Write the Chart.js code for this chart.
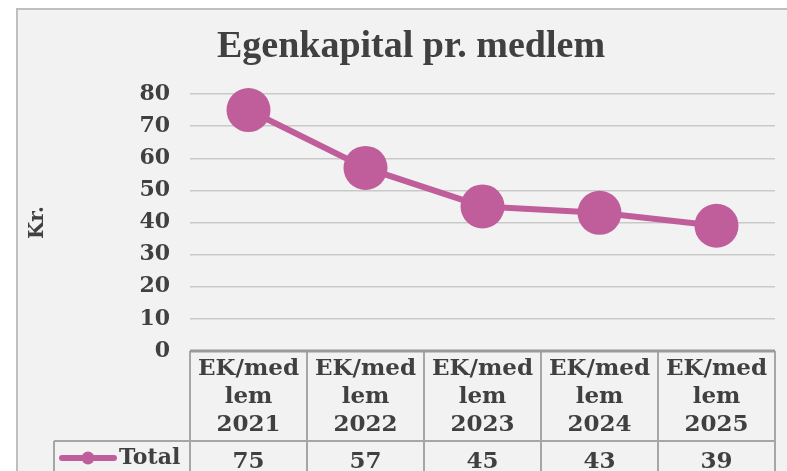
<!DOCTYPE html>
<html>
<head>
<meta charset="utf-8">
<script src="https://cdn.jsdelivr.net/npm/chart.js@4"></script>
<style>
  html, body { margin: 0; padding: 0; background: #ffffff; overflow: hidden; }
  #frame {
    position: absolute; left: 16px; top: 8px; width: 800px; height: 480px;
    background: #f2f2f2; border: 2px solid #bfbfbf; box-sizing: border-box;
  }
  #wrap { position: absolute; left: 0; top: 0; width: 787px; height: 471px; }
</style>
</head>
<body>
<div id="frame"></div>
<div id="wrap"><canvas id="ekChart" width="787" height="471"></canvas></div>
<script>
  // data
  const chartTitle = 'Egenkapital pr. medlem';
  const categories = ['EK/medlem 2021', 'EK/medlem 2022', 'EK/medlem 2023', 'EK/medlem 2024', 'EK/medlem 2025'];
  const headerLines = [['EK/med', 'lem', '2021'], ['EK/med', 'lem', '2022'], ['EK/med', 'lem', '2023'], ['EK/med', 'lem', '2024'], ['EK/med', 'lem', '2025']];
  const seriesName = 'Total';
  const totalValues = [75, 57, 45, 43, 39];
  const yTicks = [0, 10, 20, 30, 40, 50, 60, 70, 80];

  const pink = '#c05e9c';
  const textColor = '#404040';
  const tableLine = '#a6a6a6';
  const serif = '"DejaVu Serif", serif';

  // title + data table under the plot, drawn from the chart's own x scale
  const dataTablePlugin = {
    id: 'dataTable',
    afterDraw(chart) {
      const ctx = chart.ctx;
      const x = chart.scales.x;
      const area = chart.chartArea;
      const half = (x.getPixelForValue(1) - x.getPixelForValue(0)) / 2;
      const top = area.bottom;
      const rowY = top + 90;
      const bottom = chart.height + 5;
      const labelLeft = 54;

      ctx.save();
      // title
      ctx.fillStyle = textColor;
      ctx.font = 'bold 38px "Liberation Serif", serif';
      ctx.textAlign = 'center';
      ctx.textBaseline = 'middle';
      ctx.fillText(chartTitle, 411, 47);

      // grid of the table
      ctx.strokeStyle = tableLine;
      ctx.lineWidth = 2;
      ctx.beginPath();
      ctx.moveTo(area.left, rowY);
      ctx.lineTo(area.right, rowY);
      ctx.moveTo(labelLeft, rowY);
      ctx.lineTo(area.left, rowY);
      ctx.moveTo(labelLeft, rowY);
      ctx.lineTo(labelLeft, bottom);
      for (let i = 0; i <= categories.length; i++) {
        const px = Math.round(x.getPixelForValue(i) - half);
        ctx.moveTo(px, top);
        ctx.lineTo(px, bottom);
      }
      ctx.stroke();
      ctx.lineWidth = 3;
      ctx.strokeStyle = '#9a9a9a';
      ctx.beginPath();
      ctx.moveTo(area.left, top);
      ctx.lineTo(area.right, top);
      ctx.stroke();

      // header and value cells
      ctx.fillStyle = textColor;
      ctx.textAlign = 'center';
      ctx.textBaseline = 'middle';
      categories.forEach((c, i) => {
        const cx = x.getPixelForValue(i);
        ctx.font = 'bold 23px ' + serif;
        headerLines[i].forEach((line, j) => {
          ctx.fillText(line, cx, top + 18 + j * 28);
        });
        ctx.font = 'bold 23px ' + serif;
        ctx.fillText(String(totalValues[i]), cx, rowY + 21);
      });

      // legend key in row label
      const ky = rowY + 17;
      ctx.strokeStyle = pink;
      ctx.lineWidth = 6;
      ctx.lineCap = 'round';
      ctx.beginPath();
      ctx.moveTo(62, ky);
      ctx.lineTo(114, ky);
      ctx.stroke();
      ctx.fillStyle = pink;
      ctx.beginPath();
      ctx.arc(88, ky, 6.5, 0, Math.PI * 2);
      ctx.fill();
      ctx.fillStyle = textColor;
      ctx.font = 'bold 22px ' + serif;
      ctx.textAlign = 'left';
      ctx.fillText(seriesName, 119, ky);
      ctx.restore();
    }
  };

  const ctxLine = document.getElementById('ekChart').getContext('2d');
  new Chart(ctxLine, {
    type: 'line',
    data: {
      labels: categories,
      datasets: [{
        label: seriesName,
        data: totalValues,
        borderColor: pink,
        backgroundColor: pink,
        borderWidth: 6,
        pointRadius: 22,
        pointHoverRadius: 22,
        pointBackgroundColor: pink,
        pointBorderWidth: 0,
        tension: 0,
        clip: false
      }]
    },
    options: {
      responsive: false,
      animation: false,
      events: [],
      layout: { autoPadding: false, padding: { left: 22, right: 12, top: 94, bottom: 112 } },
      plugins: {
        legend: { display: false },
        title: { display: false },
        tooltip: { enabled: false }
      },
      scales: {
        x: {
          offset: true,
          grid: { display: false },
          border: { display: false },
          ticks: { display: false }
        },
        y: {
          min: 0,
          max: 80,
          afterBuildTicks(axis) {
            axis.ticks = yTicks.map(v => ({ value: v }));
          },
          afterFit(axis) { axis.width = 168; },
          border: { display: false },
          grid: {
            color: ctx => ctx.tick.value === 0 ? 'rgba(0,0,0,0)' : '#c9c9c9',
            lineWidth: 1.5,
            drawTicks: false
          },
          ticks: {
            padding: 20,
            color: textColor,
            font: { family: serif, size: 22, weight: 'bold' }
          },
          title: {
            display: true,
            text: 'Kr.',
            color: textColor,
            padding: { top: 4, bottom: 0 },
            font: { family: serif, size: 20, weight: 'bold' }
          }
        }
      }
    },
    plugins: [dataTablePlugin]
  });
</script>
</body>
</html>
